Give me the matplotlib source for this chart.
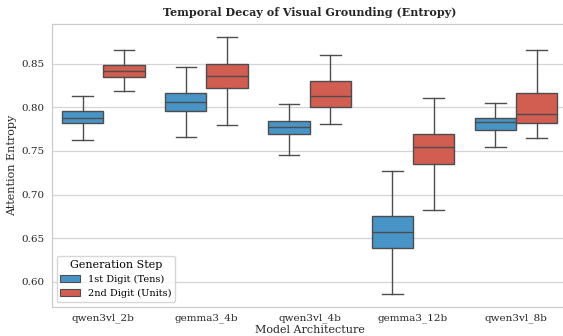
import colorsys
import matplotlib
matplotlib.use("Agg")
import matplotlib.pyplot as plt
from matplotlib.patches import Patch
import matplotlib.colors as mcolors

models = ["qwen3vl_2b", "gemma3_4b", "qwen3vl_4b", "gemma3_12b", "qwen3vl_8b"]
steps = ["1st Digit (Tens)", "2nd Digit (Units)"]

# box stats: low whisker, q1, median, q3, high whisker
tens_low = [0.7625, 0.7656, 0.7457, 0.5863, 0.7548]
tens_q1 = [0.7816, 0.7953, 0.7690, 0.6385, 0.7743]
tens_med = [0.7873, 0.8060, 0.7773, 0.6572, 0.7827]
tens_q3 = [0.7960, 0.8159, 0.7846, 0.6759, 0.7880]
tens_high = [0.8130, 0.8463, 0.8040, 0.7273, 0.8045]

units_low = [0.8185, 0.7800, 0.7805, 0.6820, 0.7644]
units_q1 = [0.8346, 0.8216, 0.8000, 0.7347, 0.7816]
units_med = [0.8411, 0.8354, 0.8125, 0.7541, 0.7926]
units_q3 = [0.8480, 0.8498, 0.8300, 0.7697, 0.8159]
units_high = [0.8650, 0.8803, 0.8597, 0.8102, 0.8650]


def desat(c, prop=0.75):
    r, g, b = mcolors.to_rgb(c)
    h, l, s = colorsys.rgb_to_hls(r, g, b)
    return colorsys.hls_to_rgb(h, l, s * prop)


colors = [desat("#3498db"), desat("#e74c3c")]
line_c = "#4d4d4d"

plt.rcParams["font.family"] = ["DejaVu Serif"]
fig = plt.figure(figsize=(5.63, 3.36), dpi=100)
ax = fig.add_axes([0.0918, 0.0872, 0.9165, 0.8405])

series = [
    (tens_low, tens_q1, tens_med, tens_q3, tens_high),
    (units_low, units_q1, units_med, units_q3, units_high),
]
for k, (lo, q1, med, q3, hi) in enumerate(series):
    stats = []
    for i in range(len(models)):
        stats.append({"whislo": lo[i], "q1": q1[i], "med": med[i],
                      "q3": q3[i], "whishi": hi[i], "fliers": []})
    pos = [i - 0.2 + 0.4 * k for i in range(len(models))]
    ax.bxp(stats, positions=pos, widths=0.4, capwidths=0.2, patch_artist=True,
           showfliers=False, manage_ticks=False,
           boxprops=dict(facecolor=colors[k], edgecolor=line_c, linewidth=1.0),
           medianprops=dict(color=line_c, linewidth=1.0),
           whiskerprops=dict(color=line_c, linewidth=1.0),
           capprops=dict(color=line_c, linewidth=1.0))

ax.set_xlim(-0.5, len(models) - 0.5)
ax.set_ylim(0.5716, 0.8950)
ax.set_xticks(range(len(models)))
ax.set_xticklabels(models)
ax.set_yticks([0.60, 0.65, 0.70, 0.75, 0.80, 0.85])
ax.tick_params(length=0, labelsize=7.5, colors="#262626", pad=5)
ax.yaxis.grid(True, color="#d5d5d5", linewidth=0.9)
ax.set_axisbelow(True)
for s in ax.spines.values():
    s.set_color("#cccccc")
    s.set_linewidth(0.9)

ax.set_title("Temporal Decay of Visual Grounding (Entropy)", fontsize=8,
             fontweight="bold", color="#262626", pad=6)
ax.set_xlabel("Model Architecture", fontsize=8, color="#262626", labelpad=1)
ax.set_ylabel("Attention Entropy", fontsize=8, color="#262626", labelpad=3)

handles = [Patch(facecolor=colors[k], edgecolor=line_c, linewidth=0.8, label=steps[k])
           for k in range(2)]
ax.legend(handles=handles, title="Generation Step", loc="lower left",
          fontsize=7, title_fontsize=8, frameon=True, edgecolor="#cccccc")

fig.savefig("out.png", dpi=100)
